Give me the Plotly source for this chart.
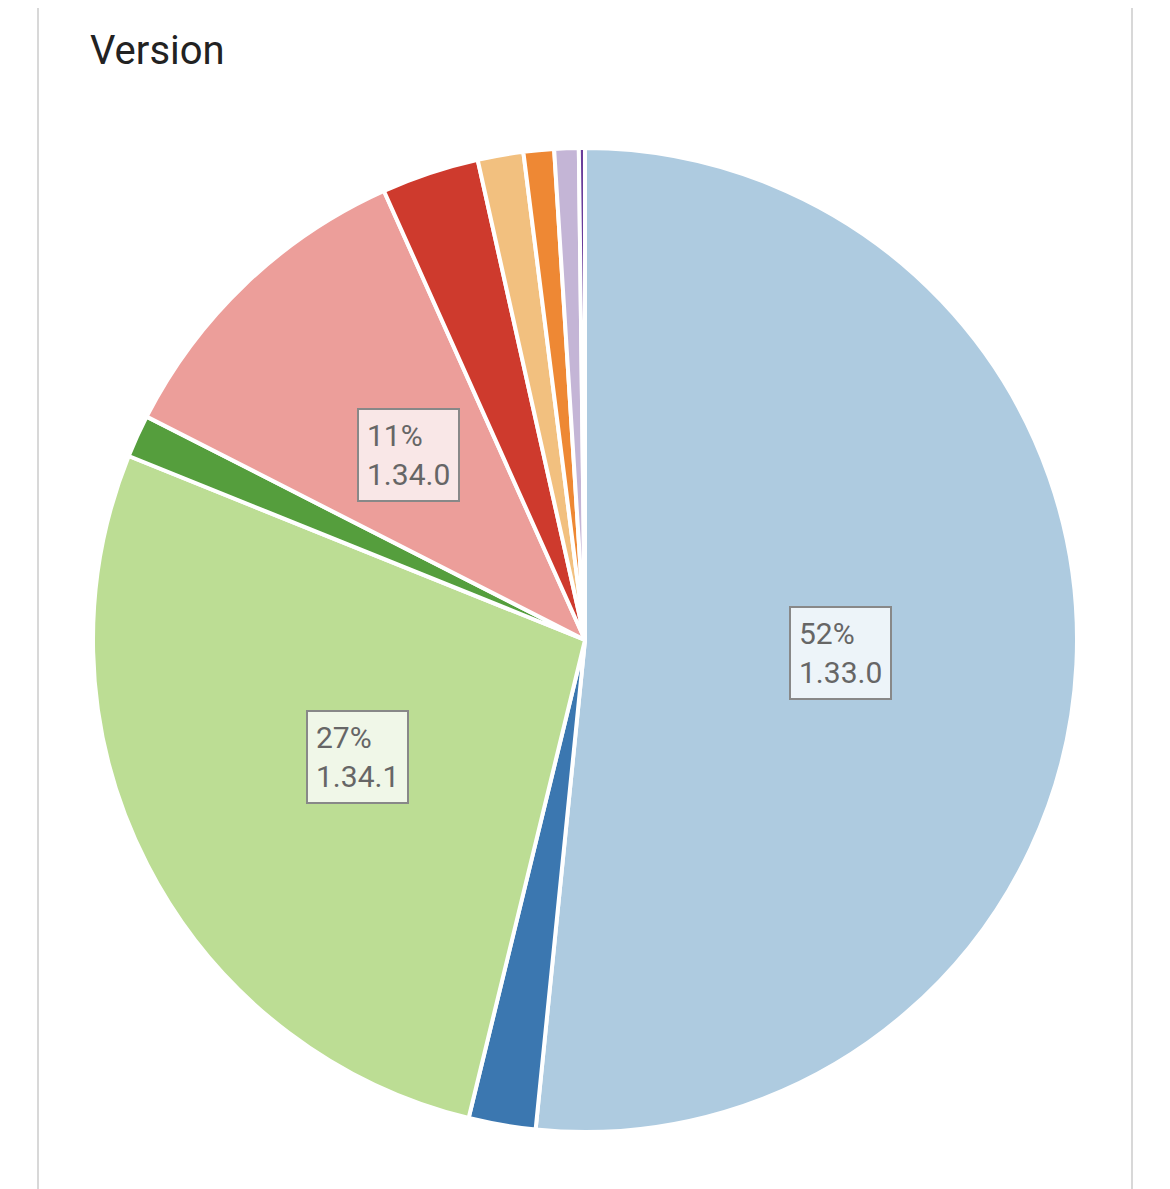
import math
import plotly.graph_objects as go

labels = ["1.33.0", "1.33.1", "1.34.1", "1.34.2", "1.34.0", "1.32.0", "1.32.1", "1.31.0", "1.30.0", "1.29.0"]
values = [51.6, 2.2, 27.3, 1.4, 10.8, 3.2, 1.5, 1.0, 0.8, 0.2]
colors = ["#aecbe0", "#3b77b0", "#bcdd94", "#559e3d", "#ec9e9a", "#ce3a2d", "#f2c07f", "#ee8834", "#c4b5d6", "#6a3d9a"]
box_colors = ["rgba(240,245,250,0.95)", None, "rgba(242,248,236,0.95)", None, "rgba(250,235,235,0.95)", None, None, None, None, None]

W, H = 1170, 1189
off = 8
cx, cy, R = 585 - off, 640 - off, 492
dom_x = [(cx - R) / W, (cx + R) / W]
dom_y = [(H - cy - R) / H, (H - cy + R) / H]

fig = go.Figure(go.Pie(
    labels=labels, values=values, sort=False, direction="clockwise", rotation=0,
    marker=dict(colors=colors, line=dict(color="white", width=4)),
    textinfo="none", hoverinfo="label+percent", showlegend=False,
    domain=dict(x=dom_x, y=dom_y),
))

total = sum(values)
cum = 0
anns = []
for lab, v, bc in zip(labels, values, box_colors):
    mid = (cum + v / 2) / total * 2 * math.pi
    cum += v
    if v / total < 0.05:
        continue
    r = 0.52 * R
    px = cx + math.sin(mid) * r
    py = cy - math.cos(mid) * r
    anns.append(dict(x=px / W, y=1 - py / H, xref="paper", yref="paper", showarrow=False,
                     xanchor="center", yanchor="middle",
                     text=f"{round(v / total * 100)}%<br>{lab}", align="left",
                     font=dict(size=30, color="#666", family="Roboto"),
                     bgcolor=bc, bordercolor="#888", borderwidth=2, borderpad=8))
anns.append(dict(x=(88 - off) / W, y=1 - (50 - off) / H, xref="paper", yref="paper", showarrow=False,
                 xanchor="left", yanchor="middle", text="Version",
                 font=dict(size=40, color="#222", family="Roboto")))

fig.update_layout(
    width=W, height=H, margin=dict(l=0, r=0, t=0, b=0),
    paper_bgcolor="white", plot_bgcolor="white", annotations=anns,
    shapes=[dict(type="rect", xref="paper", yref="paper", x0=(38 - off) / W, x1=(1132 - off) / W, y0=-0.02, y1=1.02,
                 line=dict(color="#d8d8d8", width=2), layer="below")],
)
fig.write_html("out.html")
